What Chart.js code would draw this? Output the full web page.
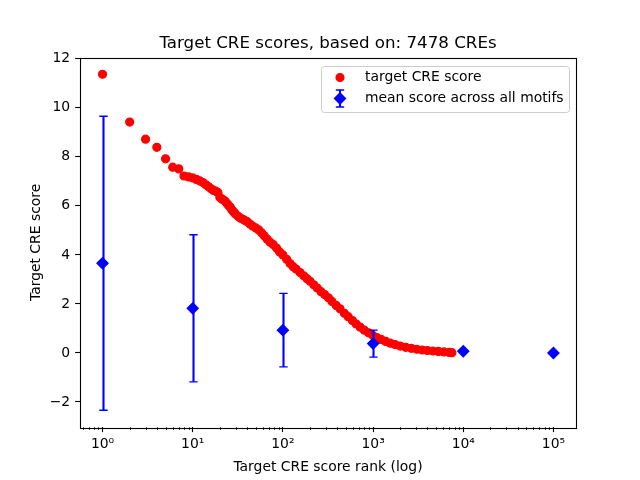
<!DOCTYPE html>
<html>
<head>
<meta charset="utf-8">
<script src="https://cdn.jsdelivr.net/npm/chart.js@4.4.1/dist/chart.umd.min.js"></script>
<style>
  html, body { margin: 0; padding: 0; background: #fff; }
</style>
</head>
<body>
<canvas id="grafico" width="640" height="480"></canvas>
<script>
// rango de cada CRE (eje x, log) y su score
const ranks = [1, 2, 3, 4, 5, 6, 7, 8, 9, 10,
  11, 12, 13, 14, 15, 16, 17, 18, 19, 20,
  21, 22, 23, 24, 25, 26, 27, 28, 29, 30,
  32, 34, 36, 38, 40, 43, 46, 50, 54, 58,
  62, 67, 72, 78, 85, 92, 100, 110, 120, 130,
  140, 155, 170, 185, 200, 220, 240, 265, 290, 320,
  350, 390, 430, 480, 530, 590, 650, 720, 800, 890,
  990, 1100, 1230, 1380, 1550, 1750, 2000, 2300, 2650, 3050,
  3500, 4000, 4600, 5300, 6100, 7000, 7478];
const scores = [11.37, 9.42, 8.72, 8.39, 7.92, 7.58, 7.51, 7.22, 7.18, 7.14,
  7.08, 7.02, 6.95, 6.86, 6.78, 6.70, 6.63, 6.60, 6.55, 6.35,
  6.28, 6.24, 6.18, 6.10, 6.02, 5.95, 5.85, 5.78, 5.72, 5.66,
  5.57, 5.50, 5.45, 5.40, 5.36, 5.26, 5.18, 5.10, 5.02, 4.90,
  4.78, 4.64, 4.52, 4.42, 4.28, 4.12, 4.00, 3.82, 3.65, 3.52,
  3.42, 3.28, 3.15, 3.03, 2.92, 2.78, 2.65, 2.50, 2.38, 2.25,
  2.10, 1.94, 1.80, 1.62, 1.48, 1.32, 1.18, 1.05, 0.93, 0.82,
  0.72, 0.63, 0.55, 0.47, 0.40, 0.34, 0.28, 0.23, 0.19, 0.15,
  0.12, 0.10, 0.08, 0.06, 0.04, 0.02, 0.01];

// media a traves de todos los motivos, con barra de error
const meanRanks = [1, 10, 100, 1000, 10000, 100000];
const meanScores = [3.66, 1.82, 0.93, 0.38, 0.07, 0.0];
const meanErrors = [6.0, 3.0, 1.5, 0.55, 0, 0];

const xTicks = [1, 10, 100, 1000, 10000, 100000];
const xTickLabels = ['10\u2070', '10\u00b9', '10\u00b2', '10\u00b3', '10\u2074', '10\u2075'];
const yTicks = [-2, 0, 2, 4, 6, 8, 10, 12];

Chart.defaults.font.family = "'DejaVu Sans', sans-serif";
Chart.defaults.color = '#000';

// barras de error verticales con sus topes
const barrasError = {
  id: 'barrasError',
  afterDatasetsDraw(chart) {
    const ctx = chart.ctx;
    const xs = chart.scales.x, ys = chart.scales.y;
    ctx.save();
    ctx.strokeStyle = '#0000ff';
    meanRanks.forEach((r, i) => {
      if (!meanErrors[i]) return;
      const x = Math.round(xs.getPixelForValue(r)) + 0.5;
      const yHi = ys.getPixelForValue(meanScores[i] + meanErrors[i]);
      const yLo = ys.getPixelForValue(meanScores[i] - meanErrors[i]);
      ctx.lineWidth = 2.1;
      ctx.beginPath();
      ctx.moveTo(x, yHi);
      ctx.lineTo(x, yLo);
      ctx.stroke();
      ctx.lineWidth = 1.4;
      ctx.beginPath();
      ctx.moveTo(x - 4.2, yHi); ctx.lineTo(x + 4.2, yHi);
      ctx.moveTo(x - 4.2, yLo); ctx.lineTo(x + 4.2, yLo);
      ctx.stroke();
    });
    ctx.restore();
  }
};

// marco completo y ticks menores del eje log
const marco = {
  id: 'marco',
  afterDraw(chart) {
    const ctx = chart.ctx;
    const a = chart.chartArea;
    const xs = chart.scales.x;
    ctx.save();
    ctx.strokeStyle = '#000';
    ctx.lineWidth = 0.8;
    for (let k = -1; k <= 5; k++) {
      for (let m = 2; m <= 9; m++) {
        const v = m * Math.pow(10, k);
        if (v < xs.min || v > xs.max) continue;
        const x = Math.round(xs.getPixelForValue(v)) + 0.5;
        ctx.beginPath();
        ctx.moveTo(x, a.bottom);
        ctx.lineTo(x, a.bottom + 2.8);
        ctx.stroke();
      }
    }
    ctx.lineWidth = 1.1;
    ctx.strokeRect(Math.round(a.left) + 0.5, Math.round(a.top) + 0.5,
      Math.round(a.right - a.left), Math.round(a.bottom - a.top));
    ctx.restore();
  }
};

// leyenda dentro del area, arriba a la derecha
const leyenda = {
  id: 'leyenda',
  afterDraw(chart) {
    const ctx = chart.ctx;
    const a = chart.chartArea;
    const ds = chart.data.datasets;
    ctx.save();
    ctx.font = "13.9px 'DejaVu Sans'";
    const textW = Math.max(...ds.map(d => ctx.measureText(d.label).width));
    const w = Math.round(43 + textW + 6);
    const h = 46;
    const x0 = Math.round(a.right - 7 - w) + 0.5;
    const y0 = Math.round(a.top + 8) + 0.5;
    ctx.beginPath();
    ctx.roundRect(x0, y0, w, h, 3);
    ctx.fillStyle = 'rgba(255,255,255,0.8)';
    ctx.fill();
    ctx.strokeStyle = '#cccccc';
    ctx.lineWidth = 1;
    ctx.stroke();

    const mx = x0 + 18.5;
    const rows = [y0 + 11, y0 + 32];
    ds.forEach((d, i) => {
      const y = rows[i];
      ctx.fillStyle = d.backgroundColor;
      ctx.strokeStyle = d.borderColor;
      if (i === 1) {
        ctx.lineWidth = 2.1;
        ctx.beginPath();
        ctx.moveTo(mx, y - 8.5); ctx.lineTo(mx, y + 8.5);
        ctx.stroke();
        ctx.lineWidth = 1.4;
        ctx.beginPath();
        ctx.moveTo(mx - 4.2, y - 8.5); ctx.lineTo(mx + 4.2, y - 8.5);
        ctx.moveTo(mx - 4.2, y + 8.5); ctx.lineTo(mx + 4.2, y + 8.5);
        ctx.stroke();
      }
      ctx.lineWidth = d.borderWidth;
      Chart.helpers.drawPoint(ctx, {
        pointStyle: d.pointStyle, radius: d.pointRadius,
        borderWidth: d.borderWidth, rotation: 0
      }, mx, y);
      ctx.fillStyle = '#000';
      ctx.textBaseline = 'middle';
      ctx.textAlign = 'left';
      ctx.fillText(d.label, x0 + 43.5, y);
    });
    ctx.restore();
  }
};

new Chart(document.getElementById('grafico').getContext('2d'), {
  type: 'scatter',
  data: {
    datasets: [{
      label: 'target CRE score',
      data: ranks.map((r, i) => ({ x: r, y: scores[i] })),
      backgroundColor: '#ff0000',
      borderColor: '#ff0000',
      pointStyle: 'circle',
      pointRadius: 4.0,
      borderWidth: 1.2,
      order: 2
    }, {
      label: 'mean score across all motifs',
      data: meanRanks.map((r, i) => ({ x: r, y: meanScores[i] })),
      backgroundColor: '#0000ff',
      borderColor: '#0000ff',
      pointStyle: 'rectRot',
      pointRadius: 5.6,
      borderWidth: 1.2,
      order: 1
    }]
  },
  options: {
    responsive: false,
    animation: false,
    events: [],
    // el titulo queda centrado sobre el area del grafico (80..576)
    layout: { padding: { left: 16, right: 0, top: 0, bottom: 0 } },
    plugins: {
      legend: { display: false },
      tooltip: { enabled: false },
      title: {
        display: true,
        text: 'Target CRE scores, based on: 7478 CREs',
        font: { size: 16.67, weight: 'normal' },
        color: '#000',
        padding: { top: 34, bottom: 3.6 }
      }
    },
    scales: {
      x: {
        type: 'logarithmic',
        position: 'bottom',
        min: Math.pow(10, -0.25),
        max: Math.pow(10, 5.25),
        afterBuildTicks: s => { s.ticks = xTicks.map(v => ({ value: v })); },
        afterFit: s => { s.height = 52.8; },
        ticks: {
          autoSkip: false,
          maxRotation: 0,
          padding: 4,
          font: { size: 13.9 },
          color: '#000',
          callback: (v, i) => xTickLabels[i]
        },
        grid: { drawOnChartArea: false, tickLength: 4.9, tickColor: '#000', tickWidth: 1.1 },
        border: { display: false },
        title: {
          display: true,
          text: 'Target CRE score rank (log)',
          font: { size: 13.9 },
          color: '#000',
          padding: { top: 0, bottom: 4.7 }
        }
      },
      y: {
        type: 'linear',
        min: -3.03,
        max: 12.05,
        afterBuildTicks: s => { s.ticks = yTicks.map(v => ({ value: v })); },
        afterFit: s => { s.width = 64; },
        ticks: {
          padding: 4.9,
          font: { size: 13.9 },
          color: '#000',
          callback: v => v < 0 ? '\u2212' + Math.abs(v) : String(v)
        },
        grid: { drawOnChartArea: false, tickLength: 4.9, tickColor: '#000', tickWidth: 1.1 },
        border: { display: false },
        title: {
          display: true,
          text: 'Target CRE score',
          font: { size: 13.9 },
          color: '#000',
          padding: { top: 11.7, bottom: 0 }
        }
      },
      // eje vacio a la derecha solo para reservar el margen
      margen: {
        type: 'linear',
        position: 'right',
        afterFit: s => { s.width = 64; },
        ticks: { display: false },
        grid: { display: false },
        border: { display: false }
      }
    }
  },
  plugins: [barrasError, marco, leyenda]
});
</script>
</body>
</html>
